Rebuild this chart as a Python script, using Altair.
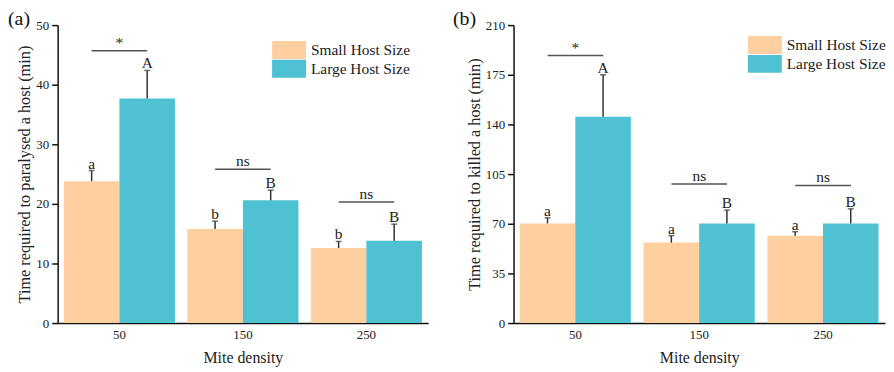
import altair as alt
import pandas as pd

FONT = "Liberation Serif"

densities = ["50", "150", "250"]
sizes = ["Small Host Size", "Large Host Size"]
colors = ["#FFCFA0", "#4EC2D3"]

# Panel (a): time required to paralyse a host
a_small = [23.8, 15.8, 12.6]
a_small_se = [1.8, 1.3, 1.1]
a_large = [37.7, 20.6, 13.8]
a_large_se = [4.7, 1.7, 2.8]
a_small_letters = ["a", "b", "b"]
a_large_letters = ["A", "B", "B"]
a_sig = ["*", "ns", "ns"]
a_sig_y = [45.7, 25.8, 20.3]
a_ticks = [0, 10, 20, 30, 40, 50]

# Panel (b): time required to kill a host
b_small = [70.2, 56.7, 61.6]
b_small_se = [4.0, 4.9, 2.8]
b_large = [145.4, 70.2, 70.2]
b_large_se = [29.6, 9.4, 10.3]
b_small_letters = ["a", "a", "a"]
b_large_letters = ["A", "B", "B"]
b_sig = ["*", "ns", "ns"]
b_sig_y = [188.5, 98.0, 97.0]
b_ticks = [0, 35, 70, 105, 140, 175, 210]


def panel(tag, ytitle, small, small_se, large, large_se, sl, ll, sig, sig_y,
          ticks, legend_x, legend_y, width, title_dx):
    rows = []
    for i, d in enumerate(densities):
        rows.append(dict(density=d, size=sizes[0], value=small[i],
                         top=small[i] + small_se[i], letter=sl[i]))
        rows.append(dict(density=d, size=sizes[1], value=large[i],
                         top=large[i] + large_se[i], letter=ll[i]))
    df = pd.DataFrame(rows)
    sdf = pd.DataFrame(dict(density=densities, label=sig, y=sig_y))

    xscale = alt.Scale(paddingInner=0.1, paddingOuter=0.05)
    xaxis = alt.Axis(title="Mite density", labelAngle=0, ticks=False,
                     labelPadding=6, titlePadding=8, titleFontSize=16)
    xoff = alt.XOffset("size:N", sort=sizes,
                       scale=alt.Scale(paddingInner=0, paddingOuter=0))
    yscale = alt.Scale(domain=[0, ticks[-1]], nice=False)
    yaxis = alt.Axis(values=ticks, title=ytitle, grid=False,
                     tickSize=6, labelPadding=3, titlePadding=3)

    def X(**kw):
        return alt.X("density:N", sort=densities, scale=xscale, axis=xaxis, **kw)

    def Y(field):
        return alt.Y(field, scale=yscale, axis=yaxis)

    bars = alt.Chart(df).mark_bar().encode(
        x=X(),
        xOffset=xoff,
        y=Y("value:Q"),
        color=alt.Color("size:N",
                        scale=alt.Scale(domain=sizes, range=colors),
                        legend=alt.Legend(
                            title=None, orient="none",
                            legendX=legend_x, legendY=legend_y,
                            symbolType="M-1.9,-1H1.9V1H-1.9Z",
                            symbolSize=324, symbolStrokeWidth=0,
                            symbolOpacity=1,
                            labelFont=FONT, labelFontSize=15.5,
                            labelColor="#222", labelOffset=13,
                            rowPadding=1)),
    )

    err = alt.Chart(df).mark_rule(color="#333", strokeWidth=1.5).encode(
        x=X(), xOffset=xoff, y=Y("value:Q"), y2="top:Q",
    )
    caps = alt.Chart(df).mark_tick(color="#333", thickness=1.5, size=6).encode(
        x=X(), xOffset=xoff, y=Y("top:Q"),
    )
    letters = alt.Chart(df).mark_text(
        font=FONT, fontSize=15.5, baseline="alphabetic", dy=-2, color="#222"
    ).encode(
        x=X(), xOffset=xoff, y=Y("top:Q"), text="letter:N",
    )
    sig_lines = alt.Chart(sdf).mark_rule(color="#555", strokeWidth=1.5).encode(
        x=X(bandPosition=0.25),
        x2=alt.X2("density:N", bandPosition=0.75),
        y=Y("y:Q"),
    )
    sig_text = alt.Chart(sdf).mark_text(
        font=FONT, fontSize=15.5, baseline="alphabetic", dy=-3, color="#222"
    ).encode(
        x=X(), y=Y("y:Q"), text="label:N",
    )

    return alt.layer(bars, err, caps, letters, sig_lines, sig_text).properties(
        width=width, height=300,
        title=alt.Title(tag, anchor="start", frame="group", dx=title_dx,
                        offset=-10, fontSize=20, font=FONT,
                        fontWeight="normal", color="#111"),
    )


pa = panel("(a)", "Time required to paralysed a host (min)",
           a_small, a_small_se, a_large, a_large_se,
           a_small_letters, a_large_letters, a_sig, a_sig_y, a_ticks,
           224, 16, 373, -50)
pb = panel("(b)", "Time required to killed a host (min)",
           b_small, b_small_se, b_large, b_large_se,
           b_small_letters, b_large_letters, b_sig, b_sig_y, b_ticks,
           244, 11, 374, -61)

chart = alt.hconcat(pa, pb, spacing=25).resolve_scale(
    color="independent", y="independent"
).resolve_legend(color="independent").properties(
    padding=0
).configure_view(
    stroke=None
).configure_axis(
    labelFont=FONT, titleFont=FONT, labelFontSize=13, titleFontSize=16.4,
    titleFontWeight="normal", labelColor="#222", titleColor="#222",
    domainColor="#111", tickColor="#111", domainWidth=1.5, tickWidth=1.5,
)

chart.save("out.html", embed_options={"renderer": "svg", "actions": False})
